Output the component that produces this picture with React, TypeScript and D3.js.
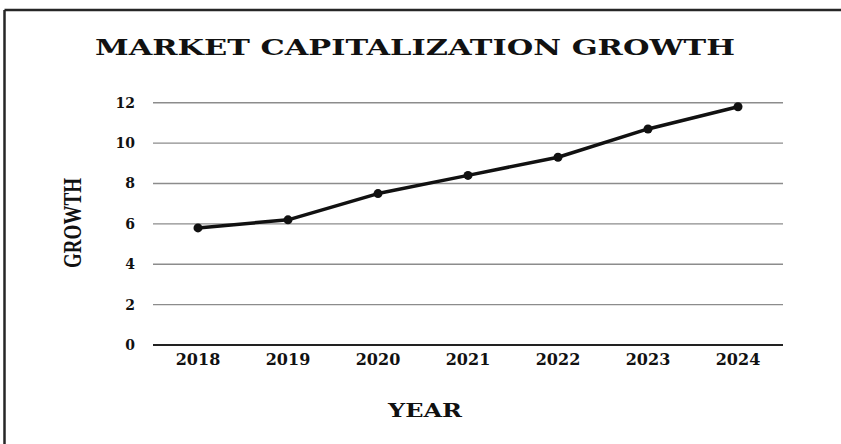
import React from "react";
import * as d3 from "d3";

const years = ["2018", "2019", "2020", "2021", "2022", "2023", "2024"];
const growth = [5.8, 6.2, 7.5, 8.4, 9.3, 10.7, 11.8];
const yTicks = [0, 2, 4, 6, 8, 10, 12];
const title = "MARKET CAPITALIZATION GROWTH";
const xTitle = "YEAR";
const yTitle = "GROWTH";

export default function App() {
  const W = 841, H = 444;
  const x = d3.scaleBand<string>().domain(years).range([153, 783]);
  const y = d3.scaleLinear().domain([0, 12]).range([345, 102.7]);
  const line = d3
    .line<number>()
    .x((_, i) => (x(years[i]) as number) + x.bandwidth() / 2)
    .y((d) => y(d));
  const serif = "'DejaVu Serif', serif";
  return (
    <svg
      width={W}
      height={H}
      style={{ position: "absolute", left: 0, top: 0, background: "#fff" }}
    >
      <rect x={0} y={0} width={W} height={H} fill="#fff" />
      <line x1={4.5} y1={10} x2={W} y2={10} stroke="#262626" strokeWidth={2.5} />
      <line x1={4.5} y1={10} x2={4.5} y2={H} stroke="#262626" strokeWidth={2.5} />
      <text
        x={95}
        y={55}
        fontFamily={serif}
        fontWeight="bold"
        fontSize={23}
        textLength={640}
        lengthAdjust="spacingAndGlyphs"
        fill="#111"
      >
        {title}
      </text>
      {yTicks.map((t) => (
        <g key={t}>
          {t !== 0 && (
            <line
              x1={153}
              x2={783}
              y1={y(t)}
              y2={y(t)}
              stroke="#8c8c8c"
              strokeWidth={1.4}
            />
          )}
          <text
            x={135}
            y={y(t) + 5}
            textAnchor="end"
            fontFamily={serif}
            fontWeight="bold"
            fontSize={14}
            fill="#111"
          >
            {t}
          </text>
        </g>
      ))}
      <line x1={153} x2={783} y1={y(0)} y2={y(0)} stroke="#222" strokeWidth={2.2} />
      {years.map((yr) => (
        <text
          key={yr}
          x={(x(yr) as number) + x.bandwidth() / 2}
          y={365}
          textAnchor="middle"
          fontFamily={serif}
          fontWeight="bold"
          fontSize={16}
          fill="#111"
        >
          {yr}
        </text>
      ))}
      <text
        x={388}
        y={417}
        fontFamily={serif}
        fontWeight="bold"
        fontSize={18}
        textLength={74}
        lengthAdjust="spacingAndGlyphs"
        fill="#111"
      >
        {xTitle}
      </text>
      <text
        transform="translate(81,223) rotate(-90)"
        textAnchor="middle"
        fontFamily="'Liberation Serif', serif"
        fontWeight="bold"
        fontSize={25}
        textLength={90}
        lengthAdjust="spacingAndGlyphs"
        fill="#111"
      >
        {yTitle}
      </text>
      <path d={line(growth) ?? ""} fill="none" stroke="#111" strokeWidth={3.5} strokeLinejoin="round" />
      {growth.map((v, i) => (
        <circle
          key={i}
          cx={(x(years[i]) as number) + x.bandwidth() / 2}
          cy={y(v)}
          r={4.5}
          fill="#111"
        />
      ))}
    </svg>
  );
}
